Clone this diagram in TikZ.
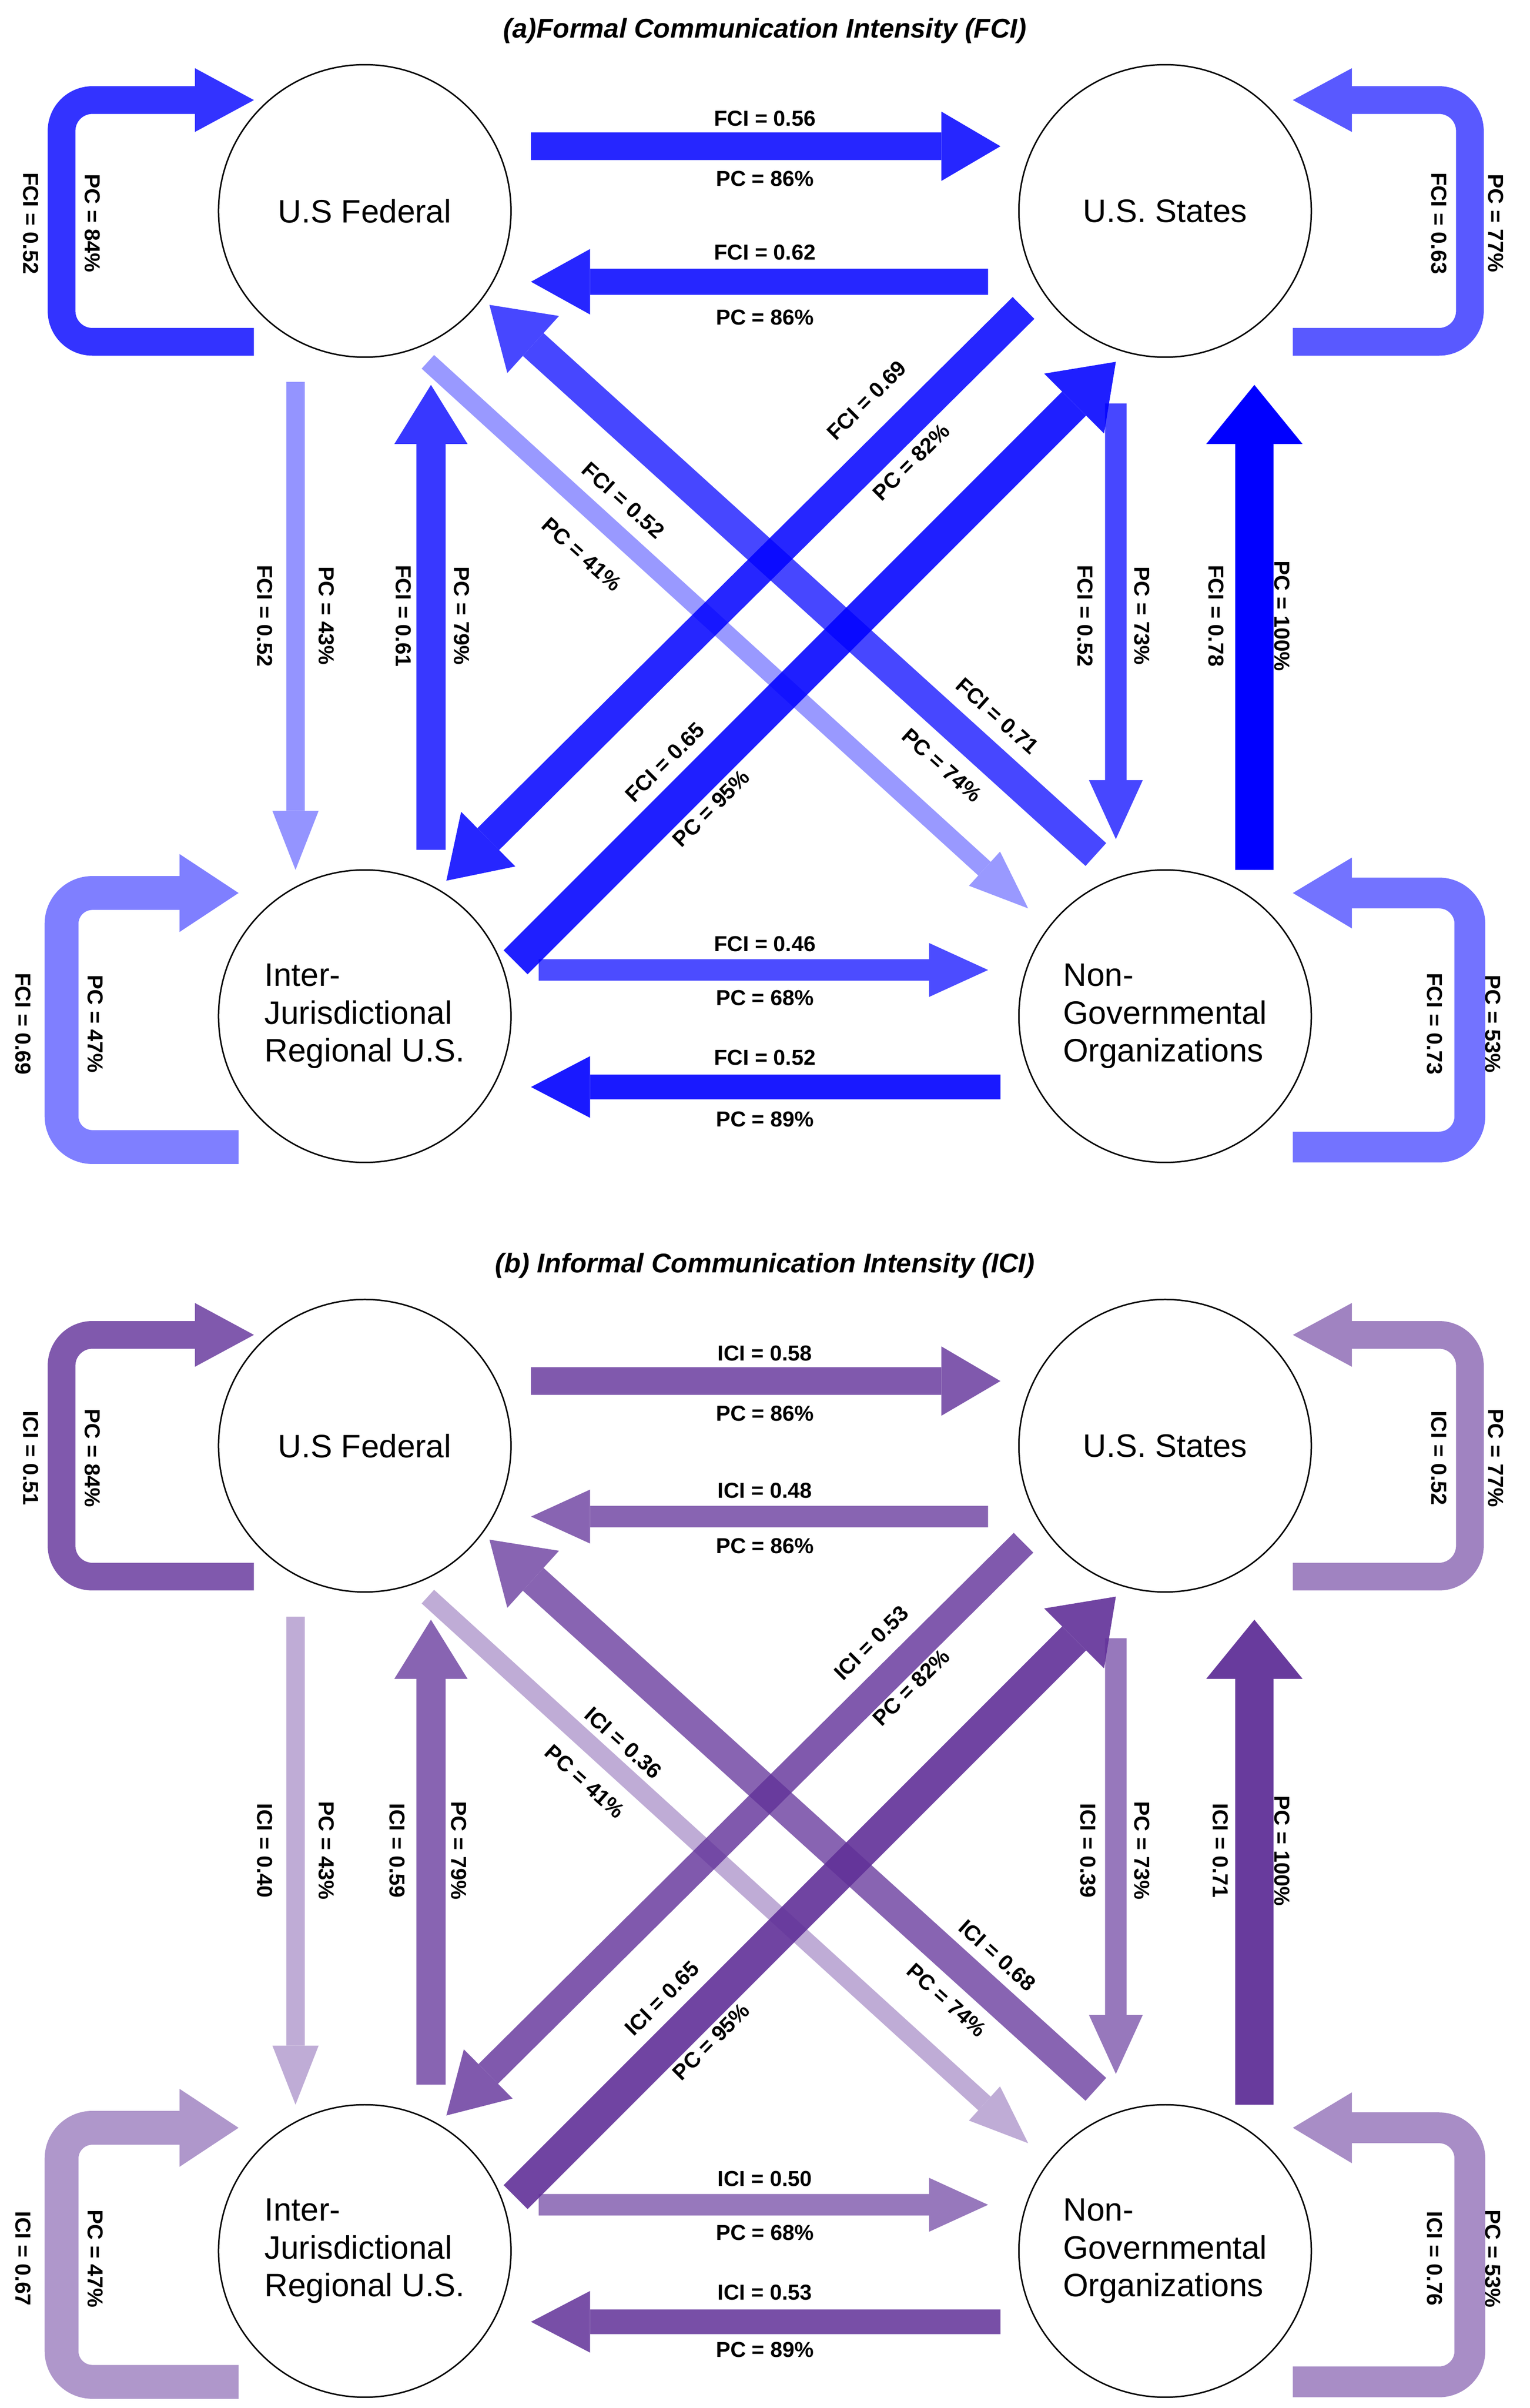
\documentclass[tikz,border=0pt]{standalone}
\usepackage{fontspec}
\setmainfont{Liberation Sans}
\usetikzlibrary{arrows.meta}
\definecolor{cb}{RGB}{0,0,255}
\definecolor{cp}{RGB}{96,48,152}
\newcommand\tarr[5]{\begin{scope}[transparency group,opacity=#2]\draw[#5={#1}{#3}] #4;\end{scope}}
\begin{document}
\begin{tikzpicture}[x=0.03cm,y=-0.03cm,
  org/.style={circle,draw=black,line width=0.8pt,minimum size=5.7cm,font=\fontsize{18}{21}\selectfont,align=left},
  lab/.style={font=\bfseries\fontsize{12}{13}\selectfont,inner sep=1pt},
  ttl/.style={font=\bfseries\itshape\fontsize{15}{17}\selectfont},
  ar/.style 2 args={draw=#1,fill=#1,line width=#2*0.03cm,-{Triangle[length=1.15cm,width=0pt 2.5,line width=0pt]}},
  lp/.style 2 args={draw=#1,fill=none,line width=#2*0.03cm,rounded corners=0.6cm,-{Triangle[length=1.15cm,width=0pt 2.3,line width=0pt,fill=#1]}}]
\useasboundingbox (0,0) rectangle (994,1564);
% ---------- panel (a)
\node[ttl] (ta) at (497,20) {(a)Formal Communication Intensity (FCI)};
\node[org] (fa) at (237,137) {U.S Federal};
\node[org] (sa) at (757,137) {U.S. States};
\node[org] (ia) at (237,660) {Inter-\\Jurisdictional\\Regional U.S.};
\node[org] (na) at (757,660) {Non-\\Governmental\\Organizations};
\foreach \n/\x/\y in {a1/345/95,a2/650/95,a3/642/183,a4/345/183,
  a5/192/248,a6/192/565,a7/280/552,a8/280/250,a9/725/262,a10/725/545,a11/815/565,a12/815/250,
  a13/350/630,a14/642/630,a15/650/706,a16/345/706,
  a17/278/235,a18/668/590,a19/712/555,a20/318/198,a21/665/200,a22/290/572,a23/335/625,a24/725/235}
  \coordinate (\n) at (\x,\y);
\tarr{cb}{0.85}{18}{(a1) -- (a2)}{ar}
\tarr{cb}{0.85}{17}{(a3) -- (a4)}{ar}
\tarr{cb}{0.42}{12}{(a5) -- (a6)}{ar}
\tarr{cb}{0.78}{19}{(a7) -- (a8)}{ar}
\tarr{cb}{0.72}{14}{(a9) -- (a10)}{ar}
\tarr{cb}{1}{25}{(a11) -- (a12)}{ar}
\tarr{cb}{0.7}{14}{(a13) -- (a14)}{ar}
\tarr{cb}{0.9}{16}{(a15) -- (a16)}{ar}
\tarr{cb}{0.4}{12}{(a17) -- (a18)}{ar}
\tarr{cb}{0.72}{20}{(a19) -- (a20)}{ar}
\tarr{cb}{0.85}{20}{(a21) -- (a22)}{ar}
\tarr{cb}{0.88}{22}{(a23) -- (a24)}{ar}
\tarr{cb}{0.8}{18}{(165,222) -- (40,222) -- (40,65) -- (165,65)}{lp}
\tarr{cb}{0.65}{18}{(840,222) -- (955,222) -- (955,65) -- (840,65)}{lp}
\tarr{cb}{0.5}{22}{(155,745) -- (40,745) -- (40,580) -- (155,580)}{lp}
\tarr{cb}{0.55}{20}{(840,745) -- (955,745) -- (955,580) -- (840,580)}{lp}
\node[lab] at (497,77) {FCI = 0.56}; \node[lab] at (497,116) {PC = 86\%};
\node[lab] at (497,164) {FCI = 0.62}; \node[lab] at (497,206) {PC = 86\%};
\node[lab] at (497,613) {FCI = 0.46}; \node[lab] at (497,648) {PC = 68\%};
\node[lab] at (497,687) {FCI = 0.52}; \node[lab] at (497,727) {PC = 89\%};
\node[lab,rotate=-90] at (20,145) {FCI = 0.52}; \node[lab,rotate=-90] at (60,145) {PC = 84\%};
\node[lab,rotate=-90] at (935,145) {FCI = 0.63}; \node[lab,rotate=-90] at (972,145) {PC = 77\%};
\node[lab,rotate=-90] at (15,665) {FCI = 0.69}; \node[lab,rotate=-90] at (62,665) {PC = 47\%};
\node[lab,rotate=-90] at (932,665) {FCI = 0.73}; \node[lab,rotate=-90] at (970,665) {PC = 53\%};
\node[lab,rotate=-90] at (172,400) {FCI = 0.52}; \node[lab,rotate=-90] at (212,400) {PC = 43\%};
\node[lab,rotate=-90] at (262,400) {FCI = 0.61}; \node[lab,rotate=-90] at (300,400) {PC = 79\%};
\node[lab,rotate=-90] at (705,400) {FCI = 0.52}; \node[lab,rotate=-90] at (742,400) {PC = 73\%};
\node[lab,rotate=-90] at (790,400) {FCI = 0.78}; \node[lab,rotate=-90] at (833,400) {PC = 100\%};
\node[lab,rotate=-42] at (405,325) {FCI = 0.52}; \node[lab,rotate=-42] at (378,360) {PC = 41\%};
\node[lab,rotate=-42] at (648,465) {FCI = 0.71}; \node[lab,rotate=-42] at (612,497) {PC = 74\%};
\node[lab,rotate=45] at (563,260) {FCI = 0.69}; \node[lab,rotate=45] at (592,300) {PC = 82\%};
\node[lab,rotate=45] at (432,495) {FCI = 0.65}; \node[lab,rotate=45] at (462,525) {PC = 95\%};
% ---------- panel (b)
\begin{scope}[shift={(0,802)}]
\node[ttl] (tb) at (497,20) {(b) Informal Communication Intensity (ICI)};
\node[org] (fb) at (237,137) {U.S Federal};
\node[org] (sb) at (757,137) {U.S. States};
\node[org] (ib) at (237,660) {Inter-\\Jurisdictional\\Regional U.S.};
\node[org] (nb) at (757,660) {Non-\\Governmental\\Organizations};
\foreach \n/\x/\y in {b1/345/95,b2/650/95,b3/642/183,b4/345/183,
  b5/192/248,b6/192/565,b7/280/552,b8/280/250,b9/725/262,b10/725/545,b11/815/565,b12/815/250,
  b13/350/630,b14/642/630,b15/650/706,b16/345/706,
  b17/278/235,b18/668/590,b19/712/555,b20/318/198,b21/665/200,b22/290/572,b23/335/625,b24/725/235}
  \coordinate (\n) at (\x,\y);
\tarr{cp}{0.8}{18}{(b1) -- (b2)}{ar}
\tarr{cp}{0.75}{14}{(b3) -- (b4)}{ar}
\tarr{cp}{0.4}{12}{(b5) -- (b6)}{ar}
\tarr{cp}{0.75}{19}{(b7) -- (b8)}{ar}
\tarr{cp}{0.65}{14}{(b9) -- (b10)}{ar}
\tarr{cp}{0.95}{25}{(b11) -- (b12)}{ar}
\tarr{cp}{0.65}{14}{(b13) -- (b14)}{ar}
\tarr{cp}{0.85}{16}{(b15) -- (b16)}{ar}
\tarr{cp}{0.4}{12}{(b17) -- (b18)}{ar}
\tarr{cp}{0.75}{20}{(b19) -- (b20)}{ar}
\tarr{cp}{0.8}{18}{(b21) -- (b22)}{ar}
\tarr{cp}{0.9}{22}{(b23) -- (b24)}{ar}
\tarr{cp}{0.8}{18}{(165,222) -- (40,222) -- (40,65) -- (165,65)}{lp}
\tarr{cp}{0.6}{18}{(840,222) -- (955,222) -- (955,65) -- (840,65)}{lp}
\tarr{cp}{0.5}{22}{(155,745) -- (40,745) -- (40,580) -- (155,580)}{lp}
\tarr{cp}{0.55}{20}{(840,745) -- (955,745) -- (955,580) -- (840,580)}{lp}
\node[lab] at (497,77) {ICI = 0.58}; \node[lab] at (497,116) {PC = 86\%};
\node[lab] at (497,166) {ICI = 0.48}; \node[lab] at (497,202) {PC = 86\%};
\node[lab] at (497,613) {ICI = 0.50}; \node[lab] at (497,648) {PC = 68\%};
\node[lab] at (497,687) {ICI = 0.53}; \node[lab] at (497,724) {PC = 89\%};
\node[lab,rotate=-90] at (20,145) {ICI = 0.51}; \node[lab,rotate=-90] at (60,145) {PC = 84\%};
\node[lab,rotate=-90] at (935,145) {ICI = 0.52}; \node[lab,rotate=-90] at (972,145) {PC = 77\%};
\node[lab,rotate=-90] at (15,665) {ICI = 0.67}; \node[lab,rotate=-90] at (62,665) {PC = 47\%};
\node[lab,rotate=-90] at (932,665) {ICI = 0.76}; \node[lab,rotate=-90] at (970,665) {PC = 53\%};
\node[lab,rotate=-90] at (172,400) {ICI = 0.40}; \node[lab,rotate=-90] at (212,400) {PC = 43\%};
\node[lab,rotate=-90] at (258,400) {ICI = 0.59}; \node[lab,rotate=-90] at (298,400) {PC = 79\%};
\node[lab,rotate=-90] at (707,400) {ICI = 0.39}; \node[lab,rotate=-90] at (742,400) {PC = 73\%};
\node[lab,rotate=-90] at (793,400) {ICI = 0.71}; \node[lab,rotate=-90] at (833,400) {PC = 100\%};
\node[lab,rotate=-42] at (405,330) {ICI = 0.36}; \node[lab,rotate=-42] at (380,355) {PC = 41\%};
\node[lab,rotate=-42] at (648,468) {ICI = 0.68}; \node[lab,rotate=-42] at (615,497) {PC = 74\%};
\node[lab,rotate=45] at (566,265) {ICI = 0.53}; \node[lab,rotate=45] at (592,294) {PC = 82\%};
\node[lab,rotate=45] at (430,496) {ICI = 0.65}; \node[lab,rotate=45] at (462,524) {PC = 95\%};
\end{scope}
\end{tikzpicture}
\end{document}
